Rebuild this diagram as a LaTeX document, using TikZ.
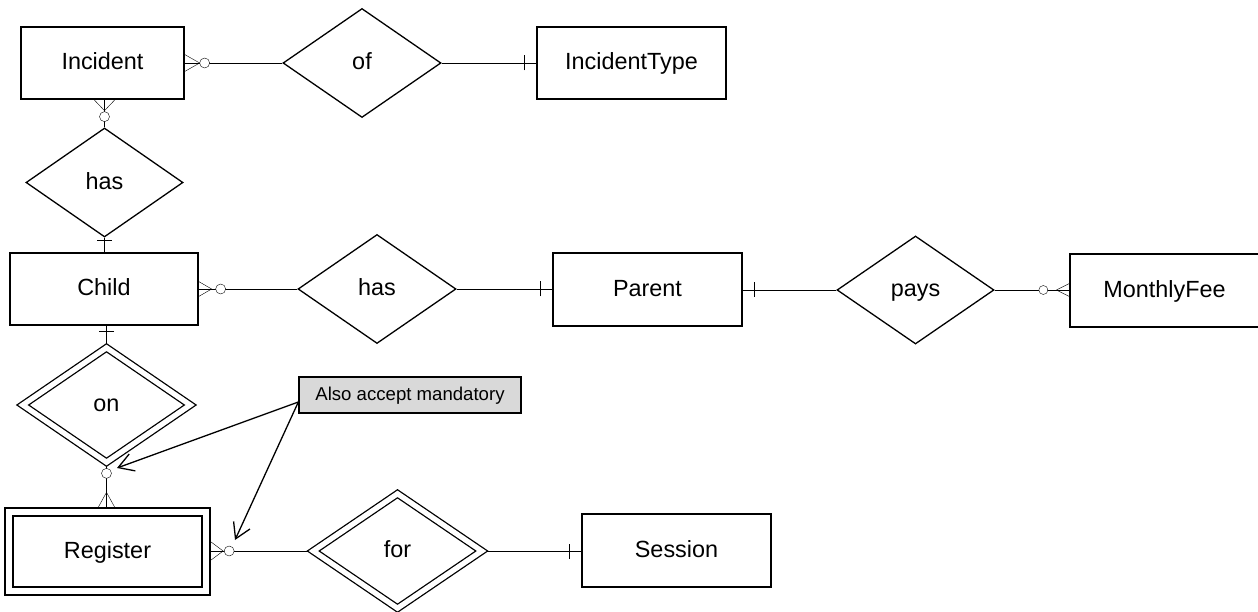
\documentclass[tikz,border=0pt]{standalone}
\usepackage{fontspec}
\setmainfont{Liberation Sans}
\usetikzlibrary{shapes.geometric,arrows.meta,decorations.markings,backgrounds,calc}
\definecolor{notegray}{RGB}{217,217,217}
\tikzset{
  entity/.style={draw, fill=white, rectangle, inner sep=0pt,
    minimum width=189pt, minimum height=72pt,
    font=\fontsize{23.4pt}{28pt}\selectfont, text height=16.8pt, text depth=3.5pt},
  weakent/.style={entity, double, double distance=6.7pt},
  rel/.style={draw, fill=white, diamond, inner sep=0pt,
    minimum width=157pt, minimum height=109pt,
    font=\fontsize{23.4pt}{28pt}\selectfont, text height=16.8pt, text depth=3.5pt},
  weakrel/.style={rel, double, double distance=5.2pt,
    minimum width=168pt, minimum height=115pt},
  notebox/.style={draw, fill=notegray, rectangle, inner sep=0pt,
    minimum width=222pt, minimum height=36pt,
    font=\fontsize{18.6pt}{22pt}\selectfont, text height=13.3pt, text depth=2pt},
  one/.style={postaction={decorate, decoration={markings,
    mark=at position -#1pt with {\draw (0pt,-7.5pt) -- (0pt,7.5pt);}}}},
  zm/.style n args={4}{postaction={decorate, decoration={markings,
    mark=at position -#1pt with {\draw[fill=white] (0pt,0pt) circle[radius=#2pt];},
    mark=at position -#3pt with {\draw (0pt,0pt) -- (#3pt,#4pt) (0pt,0pt) -- (#3pt,-#4pt);}}}},
  notearrow/.style={-{Straight Barb[length=15pt,width=18pt]}},
}
\begin{document}
\begin{tikzpicture}[x=1pt, y=-1pt, line width=1.3pt]
\path[use as bounding box] (0,0) rectangle (1258,612);

% entities
\node[entity, minimum width=163pt] (Incident) at (102.5,63) {Incident};
\node[entity] (IncidentType) at (631.5,63) {IncidentType};
\node[entity, minimum width=188pt] (Child) at (104,289) {Child};
\node[entity, minimum height=73pt] (Parent) at (647.5,289.5) {Parent};
\node[entity, minimum height=73pt] (MonthlyFee) at (1164.5,290.5) {MonthlyFee};
\node[weakent, minimum width=197pt, minimum height=79pt] (Register) at (107.5,551.5) {Register};
\node[entity, minimum height=73pt] (Session) at (676.5,550.5) {Session};

% relationships
\node[rel, minimum width=158pt] (of) at (362,63) {of};
\node[rel] (hasA) at (104.5,182.5) {has};
\node[rel, minimum width=158pt] (hasB) at (377,289) {has};
\node[rel, minimum height=108pt] (pays) at (915.5,290) {pays};
\node[weakrel] (on) at (106.5,405) {on};
\node[weakrel, minimum width=169pt] (for) at (397.5,551) {for};

% note
\node[notebox] (note) at (410,395) {Also accept mandatory};

\begin{scope}[on background layer]
  \fill[white] (0,0) rectangle (1258,612);
  \draw[zm={20}{5}{15}{8.5}] (of.west) -- (Incident.east);
  \draw[one=12] (of.east) -- (IncidentType.west);
  \draw[zm={17}{5}{11}{10.5}] (hasA.north) -- (hasA.north |- Incident.south);
  \draw[one=12] (hasA.south) -- (hasA.south |- Child.north);
  \draw[zm={22}{5}{13}{7.5}] (hasB.west) -- (hasB.west -| Child.east);
  \draw[one=12] (hasB.east) -- (hasB.east -| Parent.west);
  \draw[one=12] (pays.west) -- (pays.west -| Parent.east);
  \draw[zm={26}{4.5}{13}{6.5}] (pays.east) -- (pays.east -| MonthlyFee.west);
  \draw[one=6] (on.north) -- (on.north |- Child.south);
  \draw[zm={33.5}{5}{14.5}{8}] (on.south) -- ($(on.south |- Register.north)+(0,-4.5)$);
  \draw[zm={18}{5}{12}{9}] (for.west) -- ($(for.west -| Register.east)+(4.5,0)$);
  \draw[one=12] (for.east) -- (for.east -| Session.west);
\end{scope}

% note arrows
\coordinate (nstart) at ([yshift=-7pt]note.west);
\coordinate (tipA) at (117,468);
\coordinate (tipB) at (235,540);
\draw[notearrow] (nstart) -- (tipA);
\draw[notearrow] (nstart) -- (tipB);
\end{tikzpicture}
\end{document}
